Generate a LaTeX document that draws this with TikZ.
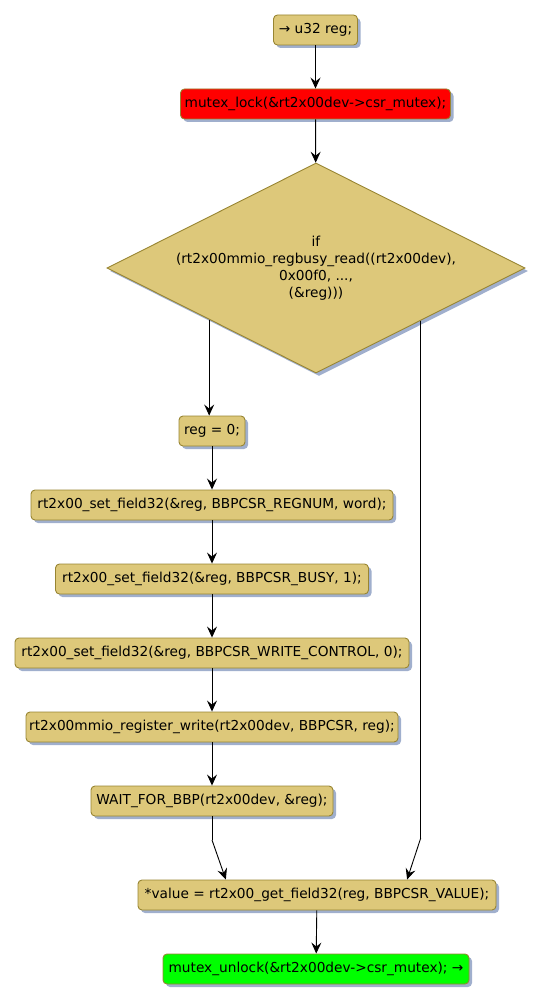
\documentclass[tikz,border=0pt]{standalone}
\usepackage{fontspec}
\setmainfont{DejaVu Sans}
\usetikzlibrary{shapes.geometric,shadows,arrows.meta,calc}
\definecolor{boxfill}{RGB}{221,200,122}
\definecolor{boxdraw}{RGB}{152,133,50}
\definecolor{shadowc}{RGB}{160,175,205}
\definecolor{redfill}{RGB}{255,0,0}
\definecolor{greenfill}{RGB}{0,255,0}
\tikzset{
  actbox/.style={rectangle, rounded corners=4pt, draw=boxdraw, line width=0.9pt, fill=boxfill,
    minimum height=30pt, inner sep=0pt, font=\fontsize{13.7}{17}\selectfont,
    drop shadow={shadow xshift=3pt, shadow yshift=-3pt, fill=shadowc, opacity=1}},
  decbox/.style={diamond, aspect=2, draw=boxdraw, line width=0.9pt, fill=boxfill,
    minimum width=418pt, minimum height=210pt, inner sep=0pt, align=center,
    font=\fontsize{13.7}{17}\selectfont,
    drop shadow={shadow xshift=3pt, shadow yshift=-3pt, fill=shadowc, opacity=1}},
  flow/.style={line width=0.9pt, -{Stealth[length=11pt,width=10pt,inset=4pt]}},
}
\begin{document}
\begin{tikzpicture}[x=1pt,y=-1pt]
\useasboundingbox (0,0) rectangle (543,1003);
\node[actbox, minimum width=84pt] (n1) at (315.5,30) {→ u32 reg;};
\node[actbox, minimum width=270pt, fill=redfill] (n2) at (315.5,104) {mutex\_lock(\&rt2x00dev->csr\_mutex);};
\node[decbox] (dia) at (316,268) {if\\(rt2x00mmio\_regbusy\_read((rt2x00dev),\\0x00f0, ...,\\(\&reg)))};
\node[actbox, minimum width=66pt] (n3) at (212,431) {reg = 0;};
\node[actbox, minimum width=362pt] (n4) at (212,505) {rt2x00\_set\_field32(\&reg, BBPCSR\_REGNUM, word);};
\node[actbox, minimum width=313pt] (n5) at (212,579) {rt2x00\_set\_field32(\&reg, BBPCSR\_BUSY, 1);};
\node[actbox, minimum width=394pt] (n6) at (212,653) {rt2x00\_set\_field32(\&reg, BBPCSR\_WRITE\_CONTROL, 0);};
\node[actbox, minimum width=372pt] (n7) at (212,727) {rt2x00mmio\_register\_write(rt2x00dev, BBPCSR, reg);};
\node[actbox, minimum width=242pt] (n8) at (212,801) {WAIT\_FOR\_BBP(rt2x00dev, \&reg);};
\node[actbox, minimum width=358pt] (n9) at (317,895) {*value = rt2x00\_get\_field32(reg, BBPCSR\_VALUE);};
\node[actbox, minimum width=306pt, fill=greenfill] (n10) at (316,969) {mutex\_unlock(\&rt2x00dev->csr\_mutex); →};
\coordinate (dl) at ($(dia.west)!0.49!(dia.south)$);
\coordinate (dr) at ($(dia.east)!0.5!(dia.south)$);
\coordinate (bl) at (212,840);
\coordinate (br) at (dr |- 0,838);
\draw[flow] (n1) -- (n2);
\draw[flow] (n2) -- (dia);
\draw[flow] (dl) -- (n3.north -| dl);
\draw[flow] (n3) -- (n4);
\draw[flow] (n4) -- (n5);
\draw[flow] (n5) -- (n6);
\draw[flow] (n6) -- (n7);
\draw[flow] (n7) -- (n8);
\draw[line width=0.9pt] (n8.south) -- (bl);
\draw[flow] (bl) -- ($(n9.north west)!0.246!(n9.north east)$);
\draw[line width=0.9pt] (dr) -- (br);
\draw[flow] (br) -- ($(n9.north west)!0.751!(n9.north east)$);
\draw[flow] (n9) -- (n10);
\end{tikzpicture}
\end{document}
